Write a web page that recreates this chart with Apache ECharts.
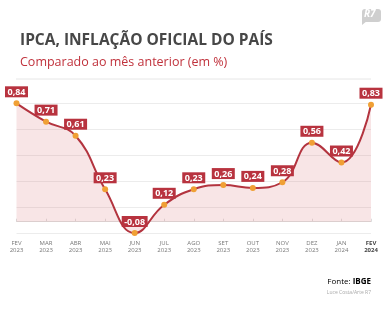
<!DOCTYPE html>
<html>
<head>
<meta charset="utf-8">
<script src="https://cdn.jsdelivr.net/npm/echarts@6/dist/echarts.min.js"></script>
<style>
html,body{margin:0;padding:0;background:#fff;}
#c{width:386px;height:326px;}
</style>
</head>
<body>
<div id="c"></div>
<script>
var months = ['FEV','MAR','ABR','MAI','JUN','JUL','AGO','SET','OUT','NOV','DEZ','JAN','FEV'];
var years = ['2023','2023','2023','2023','2023','2023','2023','2023','2023','2023','2023','2024','2024'];
var ipca = [0.84,0.71,0.61,0.23,-0.08,0.12,0.23,0.26,0.24,0.28,0.56,0.42,0.83];
var categories = months.map(function(m,i){return m+'\n'+years[i];});

var chart = echarts.init(document.getElementById('c'), null, {renderer:'canvas'});
var fontF = '"Open Sans", Lato, sans-serif';
chart.setOption({
  animation:false,
  backgroundColor:'#fff',
  title:[
    {text:'IPCA, INFLAÇÃO OFICIAL DO PAÍS', left:15, top:28,
     textStyle:{fontFamily:fontF, fontSize:15.5, fontWeight:'bold', color:'#474747'}},
    {text:'Comparado ao mês anterior (em %)', left:15, top:51,
     textStyle:{fontFamily:fontF, fontSize:12.5, fontWeight:'normal', color:'#c0323c'}}
  ],
  graphic:[
    {type:'line', shape:{x1:16,y1:79,x2:371,y2:79}, style:{stroke:'#e6e6e6', lineWidth:1}},
    {type:'rect', shape:{x:362,y:9,width:19,height:13,r:3}, style:{fill:'#cfcfcf'}},
    {type:'polygon', shape:{points:[[362,18],[362,25],[367,21]]}, style:{fill:'#cfcfcf'}},
    {type:'text', left:364, top:9.5, style:{text:'R7', fill:'#fff', font:'italic bold 10px '+fontF}},
    {type:'text', right:15, top:278, style:{text:'{a|Fonte: }{b|IBGE}', rich:{a:{fontFamily:fontF,fontSize:8,color:'#8a8a8a'},b:{fontFamily:fontF,fontSize:8,fontWeight:'bold',color:'#8a8a8a'}}}},
    {type:'text', right:15, top:290, style:{text:'Luce Costa/Arte R7', fill:'#a8a8a8', font:'5px '+fontF}}
  ],
  grid:{left:16.5, right:15, top:103.3, bottom:93},
  xAxis:{
    type:'category', data:categories, boundaryGap:false,
    axisLine:{lineStyle:{color:'#dcdcdc'}},
    axisTick:{show:true, inside:true, length:3, lineStyle:{color:'#dcdcdc'}},
    axisLabel:{
      margin:7, fontSize:6, lineHeight:7, color:'#777', fontFamily:fontF, interval:0,
      formatter:function(v,i){ return i===months.length-1 ? '{b|'+v.replace('\n','}\n{b|')+'}' : v; },
      rich:{b:{fontSize:6, lineHeight:7, fontWeight:'bold', color:'#444', fontFamily:fontF}}
    }
  },
  yAxis:[
    {type:'value', min:-0.08, max:0.84, show:false, splitLine:{show:false}},
    {type:'value', min:0, max:5, interval:1, position:'left',
     axisLine:{show:false}, axisTick:{show:false}, axisLabel:{show:false},
     splitLine:{show:true, lineStyle:{color:'#ececec', width:1}}}
  ],
  series:[{
    type:'line', data:ipca, yAxisIndex:0, smooth:0.45,
    symbol:'circle', symbolSize:6,
    itemStyle:{color:'#f0a035'},
    lineStyle:{color:'#b3343f', width:2},
    areaStyle:{color:'rgba(219,120,130,0.28)'},
    label:{
      show:true, position:'top', distance:3,
      formatter:function(p){ return p.value.toFixed(2).replace('.',','); },
      backgroundColor:'#b8333f', color:'#fff', fontSize:9, fontWeight:'bold',
      fontFamily:fontF, padding:[1,2.5,0,2.5], lineHeight:10
    },
    z:3
  }]
});
</script>
</body>
</html>
